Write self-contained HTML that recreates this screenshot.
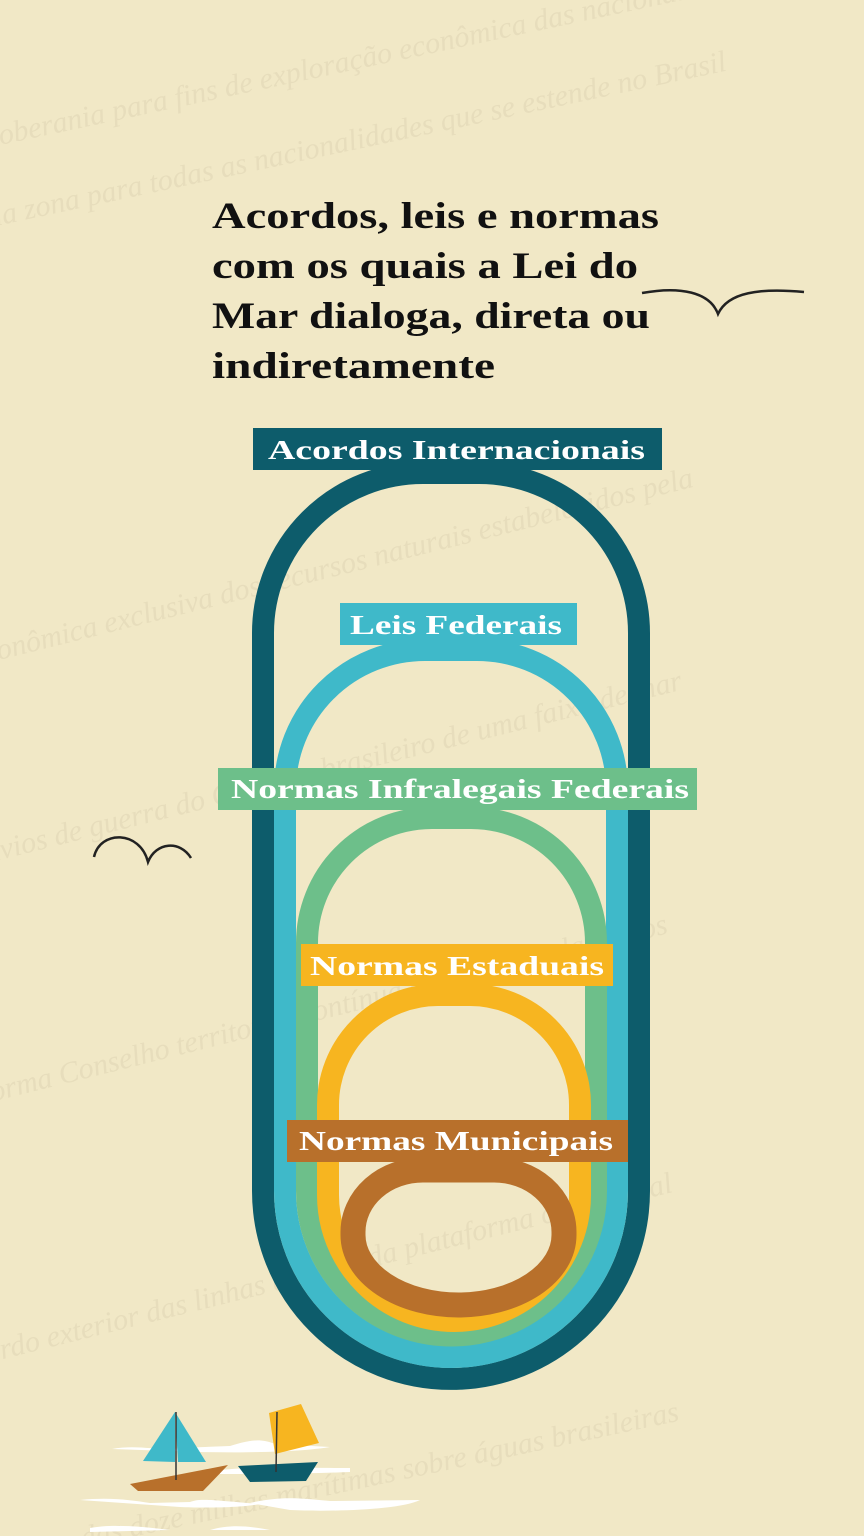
<!DOCTYPE html>
<html><head><meta charset="utf-8"><style>
html,body{margin:0;padding:0;width:864px;height:1536px;overflow:hidden;background:#f1e8c6}
svg{display:block}
</style></head><body>
<svg width="864" height="1536" viewBox="0 0 864 1536" xmlns="http://www.w3.org/2000/svg">
<rect width="864" height="1536" fill="#f1e8c6"/>
<g font-family="Liberation Serif, serif" font-size="30" fill="#ddd3b2" opacity="0.5" font-style="italic">
<text x="-20" y="60" transform="rotate(-12 400 60)">soberania para fins de exploração econômica das nacionalidades o direito</text>
<text x="-20" y="140" transform="rotate(-12 400 140)">da zona para todas as nacionalidades que se estende no Brasil</text>
<text x="-40" y="560" transform="rotate(-14 400 560)">econômica exclusiva dos recursos naturais estabelecidos pela</text>
<text x="-40" y="760" transform="rotate(-14 400 760)">navios de guerra do Governo brasileiro de uma faixa de mar</text>
<text x="-40" y="1000" transform="rotate(-14 400 1000)">Norma Conselho territorial contínua o Brasil regulamentos</text>
<text x="-40" y="1260" transform="rotate(-14 400 1260)">bordo exterior das linhas de base da plataforma continental</text>
<text x="-40" y="1480" transform="rotate(-12 400 1480)">contorno das doze milhas marítimas sobre águas brasileiras</text>
</g>
<g font-family="Liberation Serif, serif" font-weight="bold" font-size="37" fill="#111">
<text x="212" y="228" textLength="447" lengthAdjust="spacingAndGlyphs">Acordos, leis e normas</text>
<text x="212" y="278" textLength="426" lengthAdjust="spacingAndGlyphs">com os quais a Lei do</text>
<text x="212" y="328" textLength="438" lengthAdjust="spacingAndGlyphs">Mar dialoga, direta ou</text>
<text x="212" y="378" textLength="283" lengthAdjust="spacingAndGlyphs">indiretamente</text>
</g>
<path d="M642 293 C680 286 710 292 718 314 C728 292 760 288 804 292" fill="none" stroke="#222" stroke-width="2.5"/>
<path d="M94 857 C100 830 140 830 148 862 C156 842 180 840 191 858" fill="none" stroke="#222" stroke-width="2.5"/>
<g fill="none">
<path d="M263,1191 V633 A160,160 0 0 1 423,473 H479 A160,160 0 0 1 639,633 V1191 A188,188 0 0 1 263,1191 Z" stroke="#0d5c6b" stroke-width="22"/>
<path d="M285,1191 V790 A140,140 0 0 1 425,650 H477 A140,140 0 0 1 617,790 V1191 A166,166 0 0 1 285,1191 Z" stroke="#3fb9c9" stroke-width="22"/>
<path d="M307,1191 V943 A125,125 0 0 1 432,818 H471 A125,125 0 0 1 596,943 V1191 A144.5,144.5 0 0 1 307,1191 Z" stroke="#6dbf8a" stroke-width="22"/>
<path d="M328,1195 V1105 A110,110 0 0 1 438,995 H470 A110,110 0 0 1 580,1105 V1195 A126,126 0 0 1 328,1195 Z" stroke="#f7b520" stroke-width="22"/>
<path d="M353,1235 V1232 A70,62 0 0 1 423,1170 H494 A70,62 0 0 1 564,1232 V1235 A105.5,70 0 0 1 353,1235 Z" stroke="#b8702b" stroke-width="25"/>
</g>
<g font-family="Liberation Serif, serif" font-weight="bold" font-size="27" fill="#fff">
<rect x="253" y="428" width="409" height="42" fill="#0d5c6b"/>
<text x="268" y="459" textLength="377" lengthAdjust="spacingAndGlyphs">Acordos Internacionais</text>
<rect x="340" y="603" width="237" height="42" fill="#3fb9c9"/>
<text x="350" y="634" textLength="212" lengthAdjust="spacingAndGlyphs">Leis Federais</text>
<rect x="218" y="768" width="479" height="42" fill="#6dbf8a"/>
<text x="231" y="798" textLength="458" lengthAdjust="spacingAndGlyphs">Normas Infralegais Federais</text>
<rect x="301" y="944" width="312" height="42" fill="#f7b520"/>
<text x="310" y="975" textLength="294" lengthAdjust="spacingAndGlyphs">Normas Estaduais</text>
<rect x="287" y="1120" width="341" height="42" fill="#b8702b"/>
<text x="299" y="1150" textLength="314" lengthAdjust="spacingAndGlyphs">Normas Municipais</text>
</g>
<g fill="#fff">
<path d="M112 1449 C140 1444 160 1452 180 1448 L230 1446 C250 1440 260 1438 275 1444 L330 1447 C300 1452 250 1453 200 1452 Z"/>
<path d="M220 1470 C260 1466 300 1468 350 1468 L350 1472 C300 1474 260 1474 220 1474 Z"/>
<path d="M80 1500 C110 1497 130 1500 150 1503 L190 1502 C200 1498 210 1500 260 1504 C240 1508 200 1508 180 1507 Z"/>
<path d="M250 1503 C280 1496 300 1498 330 1501 L420 1500 C400 1510 330 1512 290 1510 Z"/>
<path d="M90 1528 C110 1524 140 1526 170 1530 L90 1532 Z"/>
<path d="M210 1530 C230 1524 250 1526 270 1530 Z"/>
</g>
<polygon points="143,1461 175,1412 175,1462" fill="#3fb9c9"/>
<polygon points="175,1412 206,1462 178,1462" fill="#3fb9c9"/>
<polygon points="130,1484 228,1465 203,1491 138,1491" fill="#b8702b"/>
<line x1="176" y1="1412" x2="176" y2="1480" stroke="#333" stroke-width="1.5"/>
<polygon points="269,1413 301,1404 319,1443 275,1454" fill="#f7b520"/>
<polygon points="238,1466 318,1462 306,1481 250,1482" fill="#0d5c6b"/>
<line x1="277" y1="1412" x2="276" y2="1472" stroke="#333" stroke-width="1.5"/>
</svg>
</body></html>
